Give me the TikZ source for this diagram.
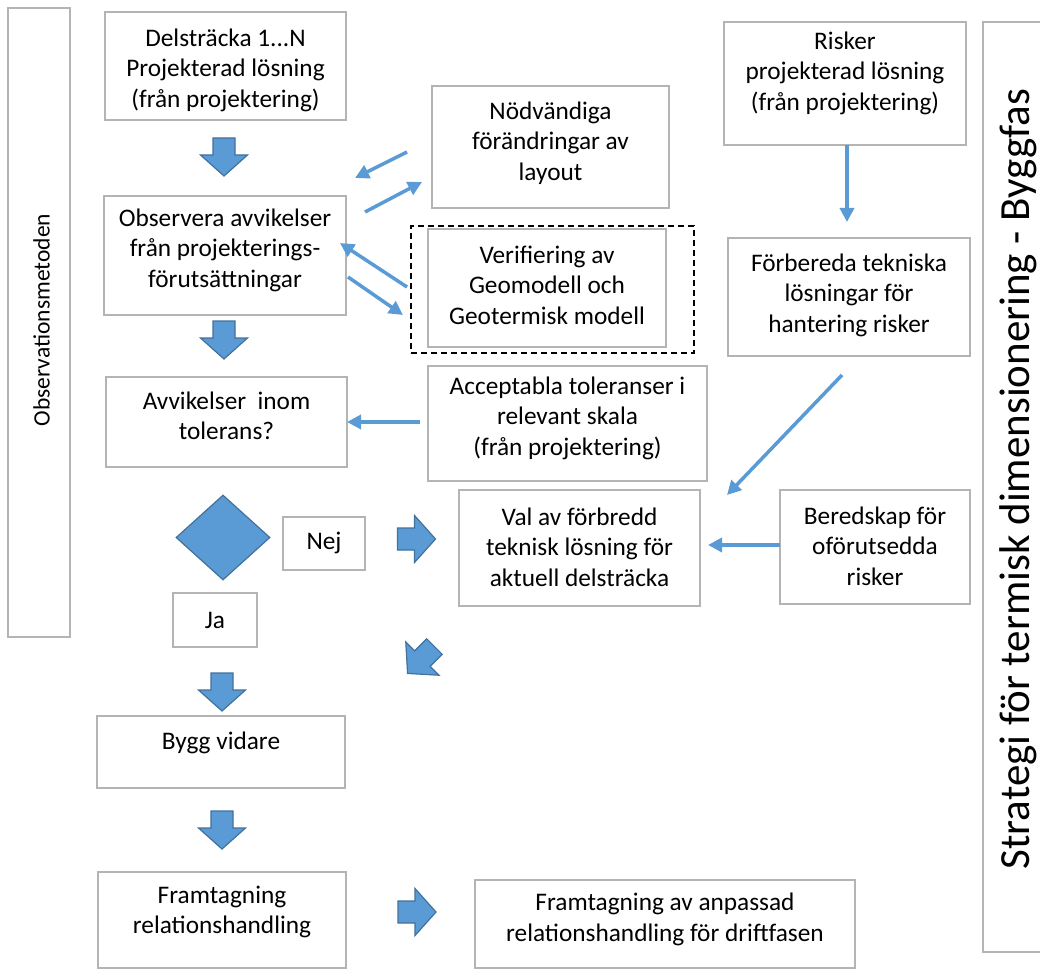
\documentclass[tikz,border=0pt]{standalone}
\usepackage{fontspec}
\setmainfont{Carlito}
\usetikzlibrary{arrows.meta,shapes.geometric}
\definecolor{accent}{HTML}{5B9BD5}
\definecolor{accentdark}{HTML}{41719C}
\definecolor{boxgray}{HTML}{B4B4B4}
\begin{document}
\begin{tikzpicture}[x=1pt,y=-1pt,
  box/.style={draw=boxgray, line width=2pt, fill=white, inner sep=0pt},
  dashbox/.style={draw=black, line width=1.6pt, dash pattern=on 6pt off 4pt, inner sep=0pt},
  txt/.style={align=center, font=\fontsize{25.3}{30.5}\selectfont, inner sep=0pt},
  thinarrow/.style={draw=accent, line width=3.5pt, -{Triangle[length=14pt,width=14pt]}},
  blockfill/.style={fill=accent, draw=accentdark, line width=1.2pt, line join=miter},
  barrow/.pic={\path[blockfill] (-19,-11) -- (-2,-11) -- (-2,-23.5) -- (19,0) -- (-2,23.5) -- (-2,11) -- (-19,11) -- cycle;}
]
\useasboundingbox (0,0) rectangle (1040,968);
\fill[white] (0,0) rectangle (1040,968);

% side boxes
\node[box, minimum width=62, minimum height=629] (obsmb) at (39,322.5) {};
\node[rotate=90, font=\fontsize{23.5}{28}\selectfont, inner sep=0pt] (obsmt) at (41.5,320) {Observationsmetoden};
\node[box, minimum width=58, minimum height=930] (stratb) at (1012,487) {};
\node[rotate=90, font=\fontsize{43}{50}\selectfont, inner sep=0pt] (stratt) at (1018,479) {Strategi för termisk dimensionering - Byggfas};

% main boxes
\node[box, minimum width=241, minimum height=108] (delb) at (225.5,66) {};
\node[txt] (delt) at (225.5,70) {Delsträcka 1...N\\Projekterad lösning\\(från projektering)};

\node[box, minimum width=237, minimum height=122] (nodb) at (550.5,147) {};
\node[txt] (nodt) at (550.5,143) {Nödvändiga\\förändringar av\\layout};

\node[box, minimum width=242, minimum height=123] (riskb) at (845,83.5) {};
\node[txt] (riskt) at (845,73) {Risker\\projekterad lösning\\(från projektering)};

\node[box, minimum width=242, minimum height=119] (obsb) at (225,255.5) {};
\node[txt] (obst) at (225,250) {Observera avvikelser\\från projekterings-\\förutsättningar};

\node[dashbox, minimum width=283, minimum height=127] (dashb) at (552.5,289.5) {};
\node[box, minimum width=238, minimum height=118] (verb) at (547,288) {};
\node[txt] (vert) at (547,285) {Verifiering av\\Geomodell och\\Geotermisk modell};

\node[box, minimum width=242, minimum height=118] (forb) at (849,297) {};
\node[txt] (fort) at (849,295) {Förbereda tekniska\\lösningar för\\hantering risker};

\node[box, minimum width=241, minimum height=90] (avvb) at (226.5,422) {};
\node[txt] (avvt) at (226.5,416) {Avvikelser\ \ inom\\tolerans?};

\node[box, minimum width=279, minimum height=115] (accb) at (567.5,423.5) {};
\node[txt] (acct) at (567.5,418) {Acceptabla toleranser i\\relevant skala\\(från projektering)};

\node[box, minimum width=241, minimum height=116] (valb) at (579.5,548) {};
\node[txt] (valt) at (579.5,547) {Val av förbredd\\teknisk lösning för\\aktuell delsträcka};

\node[box, minimum width=190, minimum height=114] (berb) at (875,547) {};
\node[txt] (bert) at (875,546) {Beredskap för\\oförutsedda\\risker};

\node[diamond, blockfill, minimum width=94, minimum height=85, inner sep=0pt] (dec) at (223,537.5) {};
\node[box, minimum width=82, minimum height=53] (nejb) at (324,543.5) {};
\node[txt] (nejt) at (324,543) {Nej};
\node[box, minimum width=84, minimum height=54] (jab) at (215,620) {};
\node[txt] (jat) at (215,620) {Ja};

\node[box, minimum width=248, minimum height=72] (byggb) at (221,752) {};
\node[txt] (byggt) at (221,743) {Bygg vidare};

\node[box, minimum width=248, minimum height=96] (fram1b) at (222,920) {};
\node[txt] (fram1t) at (222,912) {Framtagning\\relationshandling};

\node[box, minimum width=380, minimum height=88] (fram2b) at (665,924) {};
\node[txt] (fram2t) at (665,919.5) {Framtagning av anpassad\\relationshandling för driftfasen};

% block arrows
\pic[rotate=-90] at (224,157) {barrow};
\pic[rotate=-90] at (224,340) {barrow};
\pic[rotate=-90] at (222,692) {barrow};
\pic[rotate=-90] at (222,830) {barrow};
\pic at (416.5,539) {barrow};
\pic at (417,912) {barrow};
\pic[rotate=-135] at (421,660) {barrow};

% thin arrows
\coordinate (a1s) at (407,152); \coordinate (a1e) at (355,178);
\coordinate (a2s) at (365,212); \coordinate (a2e) at (422,182);
\coordinate (a3s) at (407,287); \coordinate (a3e) at (340,243);
\coordinate (a4s) at (348,277); \coordinate (a4e) at (403,315);
\coordinate (a5s) at (420,422); \coordinate (a5e) at (347,422);
\coordinate (a6s) at (847,145); \coordinate (a6e) at (847,222);
\coordinate (a7s) at (842,375); \coordinate (a7e) at (727,495);
\coordinate (a8s) at (780,545); \coordinate (a8e) at (708,545);
\draw[thinarrow] (a1s) -- (a1e);
\draw[thinarrow] (a2s) -- (a2e);
\draw[thinarrow] (a3s) -- (a3e);
\draw[thinarrow] (a4s) -- (a4e);
\draw[thinarrow] (a5s) -- (a5e);
\draw[thinarrow] (a6s) -- (a6e);
\draw[thinarrow] (a7s) -- (a7e);
\draw[thinarrow] (a8s) -- (a8e);
\end{tikzpicture}
\end{document}
